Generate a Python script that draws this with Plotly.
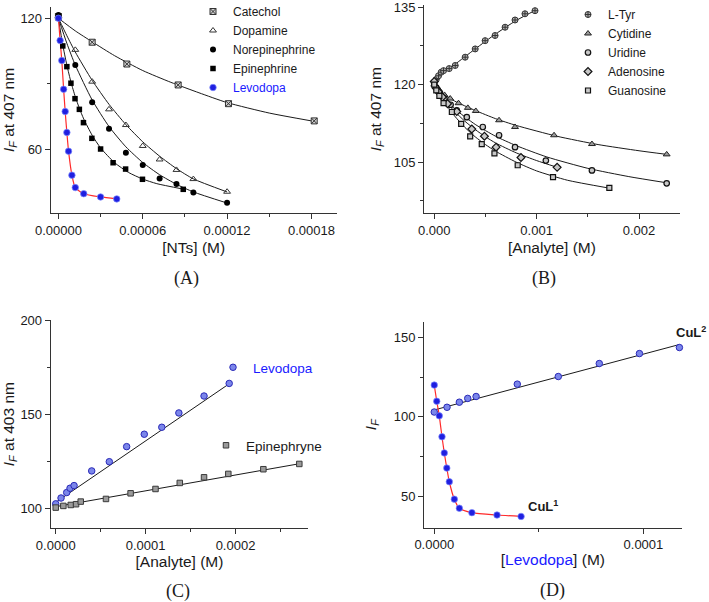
import plotly.graph_objects as go

# ---------------- Panel A data ----------------
a_cat_x = [0, 0.000024, 0.0000487, 0.0000852, 0.000121, 0.000182]
a_cat_y = [120.8, 109.0, 99.0, 89.4, 80.8, 72.9]
a_cat_fit_x = [0, 0.000012, 0.000024, 0.00004, 0.00006, 0.00008, 0.0001, 0.00012, 0.00015, 0.00018]
a_cat_fit_y = [120.0, 114.2, 109.2, 102.8, 96.0, 90.6, 85.8, 81.3, 76.5, 72.9]

a_dop_x = [0, 0.000012, 0.000024, 0.000036, 0.000048, 0.00006, 0.000072, 0.000084, 0.000096, 0.00012]
a_dop_y = [121.0, 105.5, 90.9, 78.2, 71.0, 61.4, 55.2, 50.4, 46.2, 40.4]
a_dop_fit_x = [0, 0.000006, 0.000012, 0.000024, 0.000036, 0.000048, 0.00006, 0.000072, 0.000084, 0.000096, 0.00012]
a_dop_fit_y = [120.0, 112.0, 104.5, 91.5, 80.5, 71.2, 63.3, 56.7, 51.0, 46.3, 40.3]

a_nor_x = [0, 0.000012, 0.000024, 0.000036, 0.000048, 0.00006, 0.000072, 0.000084, 0.000096, 0.00012]
a_nor_y = [121.5, 98.6, 81.4, 69.3, 58.3, 52.7, 46.5, 44.0, 40.0, 35.3]
a_nor_fit_x = [0, 0.000006, 0.000012, 0.000024, 0.000036, 0.000048, 0.00006, 0.000072, 0.000084, 0.000096, 0.00012]
a_nor_fit_y = [120.0, 108.5, 98.5, 82.5, 70.3, 61.0, 53.8, 48.2, 43.8, 40.3, 35.2]

a_epi_x = [0, 0.0000031, 0.000006, 0.0000089, 0.0000118, 0.0000149, 0.0000178, 0.0000238, 0.00003, 0.0000389, 0.0000478, 0.0000598, 0.0000888]
a_epi_y = [120.0, 107.3, 97.8, 90.2, 83.1, 78.2, 72.1, 64.9, 60.0, 53.7, 50.8, 46.1, 41.5]
a_epi_fit_x = [0, 0.000003, 0.000006, 0.000009, 0.000012, 0.000015, 0.000018, 0.000024, 0.00003, 0.00004, 0.00005, 0.00006, 0.00007, 0.0000888]
a_epi_fit_y = [120.0, 108.0, 98.5, 90.5, 84.0, 78.5, 73.8, 66.3, 60.5, 53.7, 49.2, 46.2, 44.1, 41.6]

levo_x = [0, 0.0000012, 0.0000024, 0.0000037, 0.0000048, 0.0000060, 0.0000072, 0.0000096, 0.000012, 0.000018, 0.00003, 0.0000415]
levo_y = [120.0, 109.8, 100.6, 87.4, 77.2, 67.6, 59.0, 48.0, 42.3, 39.5, 38.0, 37.1]

# ---------------- Panel B data ----------------
b_tyr_x = [0, 0.00002, 0.000042, 0.000068, 0.000091, 0.000146, 0.000205, 0.000302, 0.0004, 0.000497, 0.000594, 0.000692, 0.000789, 0.000886, 0.000984]
b_tyr_y = [120.5, 121.0, 121.7, 122.4, 122.7, 123.1, 123.7, 125.3, 126.9, 128.5, 129.5, 131.1, 132.5, 133.7, 134.3]
b_tyr_fit_x = [0, 0.00005, 0.0001, 0.0002, 0.0004, 0.0006, 0.0008, 0.001]
b_tyr_fit_y = [120.3, 121.7, 122.6, 123.9, 126.9, 129.8, 132.4, 134.5]

b_cyt_x = [0, 0.00002, 0.00005, 0.0001, 0.000156, 0.000237, 0.000328, 0.000406, 0.000633, 0.000789, 0.00117, 0.00154, 0.00227]
b_cyt_y = [120.0, 119.5, 118.9, 118.0, 117.3, 116.4, 115.5, 114.9, 113.1, 111.8, 110.2, 108.5, 106.5]
b_cyt_fit_x = [0, 0.0001, 0.0002, 0.0004, 0.0006, 0.0008, 0.0012, 0.0016, 0.002, 0.00227]
b_cyt_fit_y = [120.0, 118.1, 116.8, 115.0, 113.4, 112.1, 110.0, 108.4, 107.2, 106.5]

b_uri_x = [0, 0.00002, 0.00005, 0.0001, 0.00016, 0.00022, 0.000318, 0.000474, 0.000633, 0.000789, 0.00109, 0.00154, 0.00227]
b_uri_y = [120.2, 119.4, 118.5, 117.3, 116.1, 115.0, 113.7, 111.8, 110.2, 107.9, 105.3, 103.4, 100.9]
b_uri_fit_x = [0, 0.0001, 0.0002, 0.0004, 0.0006, 0.0008, 0.0011, 0.0015, 0.0019, 0.00227]
b_uri_fit_y = [120.0, 117.3, 115.3, 112.3, 110.0, 108.2, 106.0, 103.8, 102.2, 101.0]

b_ade_x = [0, 0.00002, 0.00004, 0.00008, 0.00013, 0.00022, 0.000367, 0.00049, 0.000604, 0.000847, 0.0012]
b_ade_y = [120.6, 119.3, 118.6, 117.6, 116.3, 114.8, 111.4, 110.0, 107.9, 105.9, 104.0]
b_ade_fit_x = [0, 0.0001, 0.0002, 0.0003, 0.0004, 0.0005, 0.0006, 0.0008, 0.001, 0.0012]
b_ade_fit_y = [120.0, 117.0, 114.8, 112.9, 111.3, 109.9, 108.7, 106.8, 105.3, 104.0]

b_gua_x = [0, 0.00002, 0.00005, 0.000091, 0.000172, 0.000263, 0.000351, 0.000464, 0.000588, 0.000815, 0.00116, 0.00171]
b_gua_y = [120.0, 118.9, 117.8, 116.4, 114.7, 112.4, 110.0, 108.5, 106.7, 104.4, 102.1, 100.0]
b_gua_fit_x = [0, 0.0001, 0.0002, 0.0003, 0.0004, 0.0005, 0.0006, 0.0008, 0.001, 0.0013, 0.0017]
b_gua_fit_y = [120.0, 116.6, 113.9, 111.7, 109.9, 108.4, 107.1, 105.0, 103.3, 101.5, 100.0]

# ---------------- Panel C data ----------------
c_levo_x = [0, 0.0000059, 0.0000122, 0.0000159, 0.0000204, 0.00004, 0.0000596, 0.0000789, 0.0000985, 0.000118, 0.000137, 0.000165, 0.000193]
c_levo_y = [102.7, 105.8, 108.7, 111.0, 112.4, 120.2, 125.1, 133.1, 139.7, 143.4, 151.0, 160.0, 166.7]
c_levo_fit_x = [0, 0.000193]
c_levo_fit_y = [103.5, 166.5]

c_epi_x = [0, 0.0000085, 0.0000167, 0.0000226, 0.0000278, 0.0000559, 0.0000833, 0.000111, 0.000138, 0.000165, 0.000192, 0.000231, 0.000271]
c_epi_y = [100.7, 101.6, 102.1, 102.5, 103.9, 105.3, 108.3, 110.6, 113.8, 116.8, 118.6, 121.1, 123.9]
c_epi_fit_x = [0, 0.000271]
c_epi_fit_y = [101.2, 124.0]

# ---------------- Panel D data ----------------
d_cul2_x = [0, 0.0000061, 0.000012, 0.000016, 0.00002, 0.0000397, 0.0000593, 0.0000789, 0.0000981, 0.0001172]
d_cul2_y = [103.0, 106.0, 109.2, 111.6, 112.8, 120.6, 125.4, 133.6, 139.9, 143.7]
d_cul2_fit_x = [0, 0.0001172]
d_cul2_fit_y = [104.3, 145.6]

FONT = "Liberation Sans, Arial, sans-serif"
SERIF = "Liberation Serif, Times New Roman, serif"
BLUE = "#1a1aff"
FITC = "#1a1a1a"
RED = "#ff2a2a"

fig = go.Figure()

def fit(x, y, xa, ya, color=FITC, width=1, shape="spline"):
    fig.add_trace(go.Scatter(x=x, y=y, mode="lines", xaxis=xa, yaxis=ya,
                             line=dict(color=color, width=width, shape=shape, smoothing=0.6),
                             showlegend=False, hoverinfo="skip"))

def pts(x, y, xa, ya, name, marker, legend=None, showlegend=True):
    fig.add_trace(go.Scatter(x=x, y=y, mode="markers", xaxis=xa, yaxis=ya, name=name,
                             marker=marker, showlegend=showlegend,
                             legend=legend if legend else "legend", cliponaxis=False))

# ----- A -----
fit(a_cat_fit_x, a_cat_fit_y, "x", "y")
fit(a_dop_fit_x, a_dop_fit_y, "x", "y")
fit(a_nor_fit_x, a_nor_fit_y, "x", "y")
fit(a_epi_fit_x, a_epi_fit_y, "x", "y")
fit(levo_x, levo_y, "x", "y", color=RED, width=1.2)
pts(a_cat_x, a_cat_y, "x", "y", "Catechol",
    dict(symbol="square-x", size=6, color="#d0d0d0", line=dict(color="#333", width=1)), "legend")
pts(a_dop_x, a_dop_y, "x", "y", "Dopamine",
    dict(symbol="triangle-up-open", size=6, color="#333", line=dict(width=1)), "legend")
pts(a_nor_x, a_nor_y, "x", "y", "Norepinephrine",
    dict(symbol="circle", size=6, color="#000"), "legend")
pts(a_epi_x, a_epi_y, "x", "y", "Epinephrine",
    dict(symbol="square", size=5.5, color="#000"), "legend")
pts(levo_x, levo_y, "x", "y", "<span style='color:%s'>Levodopa</span>" % BLUE,
    dict(symbol="circle", size=6.5, color="#1f1fe0", line=dict(color="#7f8cff", width=0.7)), "legend")

# ----- B -----
fit(b_tyr_fit_x, b_tyr_fit_y, "x2", "y2")
fit(b_cyt_fit_x, b_cyt_fit_y, "x2", "y2")
fit(b_uri_fit_x, b_uri_fit_y, "x2", "y2")
fit(b_ade_fit_x, b_ade_fit_y, "x2", "y2")
fit(b_gua_fit_x, b_gua_fit_y, "x2", "y2")
pts(b_tyr_x, b_tyr_y, "x2", "y2", "L-Tyr",
    dict(symbol="circle-cross", size=6, color="#b0b0b0", line=dict(color="#333", width=1)), "legend2")
pts(b_cyt_x, b_cyt_y, "x2", "y2", "Cytidine",
    dict(symbol="triangle-up", size=6, color="#9a9a9a", line=dict(color="#222", width=1)), "legend2")
pts(b_uri_x, b_uri_y, "x2", "y2", "Uridine",
    dict(symbol="circle", size=5.5, color="#c8c8c8", line=dict(color="#111", width=1.2)), "legend2")
pts(b_ade_x, b_ade_y, "x2", "y2", "Adenosine",
    dict(symbol="diamond", size=6, color="#c8c8c8", line=dict(color="#111", width=1.2)), "legend2")
pts(b_gua_x, b_gua_y, "x2", "y2", "Guanosine",
    dict(symbol="square", size=5, color="#c8c8c8", line=dict(color="#111", width=1.2)), "legend2")

# ----- C -----
fit(c_levo_fit_x, c_levo_fit_y, "x3", "y3", shape="linear")
fit(c_epi_fit_x, c_epi_fit_y, "x3", "y3", shape="linear")
pts(c_levo_x, c_levo_y, "x3", "y3", "<span style='color:%s'>Levodopa</span>" % BLUE,
    dict(symbol="circle", size=6.5, color="#7b86ea", line=dict(color="#2a2ab8", width=1)), "legend3")
pts(c_epi_x, c_epi_y, "x3", "y3", "Epinephryne",
    dict(symbol="square", size=5.5, color="#9a9a9a", line=dict(color="#3a3a3a", width=1)), "legend4")

# ----- D -----
fit(d_cul2_fit_x, d_cul2_fit_y, "x4", "y4", shape="linear")
fit(levo_x, levo_y, "x4", "y4", color=RED, width=1.2)
pts(d_cul2_x, d_cul2_y, "x4", "y4", "CuL2",
    dict(symbol="circle", size=6.5, color="#7b86ea", line=dict(color="#2a2ab8", width=1)), showlegend=False)
pts(levo_x, levo_y, "x4", "y4", "CuL1",
    dict(symbol="circle", size=6.5, color="#1f1fe0", line=dict(color="#7f8cff", width=0.7)), showlegend=False)

W, H = 709, 602
def dx(a, b):
    return [a / W, b / W]
def dy(top, bottom):
    return [1 - bottom / H, 1 - top / H]

ax_common = dict(showline=True, linecolor="#333", linewidth=1, ticks="outside", ticklen=5,
                 tickcolor="#333", showgrid=False, zeroline=False, automargin=False,
                 ticklabeloverflow="allow",
                 tickfont=dict(family=FONT, size=13, color="#1a1a1a"),
                 title_font=dict(family=FONT, size=15.5, color="#1a1a1a"))
minor = lambda d: dict(ticks="outside", ticklen=3, dtick=d, tickcolor="#333", showgrid=False)

ytitle = "<i>I<sub>F</sub></i> at 407 nm"

fig.update_layout(
    width=W, height=H, margin=dict(l=0, r=0, t=0, b=0, autoexpand=False),
    paper_bgcolor="white", plot_bgcolor="white",
    font=dict(family=FONT, color="#1a1a1a"),
    xaxis=dict(domain=dx(50.7, 336.7), anchor="y", range=[-0.0000055, 0.000198],
               tick0=0, dtick=0.00006, tickformat=".5f", minor=minor(0.00003),
               title=dict(text="[NTs] (M)", standoff=5), **ax_common),
    yaxis=dict(domain=dy(6.7, 213.3), anchor="x", range=[30.5, 125.3],
               tick0=0, dtick=60, minor=minor(30),
               title=dict(text=ytitle, standoff=4), **ax_common),
    xaxis2=dict(domain=dx(424, 680), anchor="y2", range=[-0.0001, 0.0024],
                tick0=0, dtick=0.001, tickformat=".3f", minor=minor(0.0005),
                title=dict(text="[Analyte] (M)", standoff=5), **ax_common),
    yaxis2=dict(domain=dy(5, 213.3), anchor="x2", range=[95.1, 135.4],
                tick0=0, dtick=15, minor=minor(7.5),
                title=dict(text=ytitle, standoff=8), **ax_common),
    xaxis3=dict(domain=dx(50.7, 308.3), anchor="y3", range=[-0.0000056, 0.000281],
                tick0=0, dtick=0.0001, tickformat=".4f", minor=minor(0.00005),
                title=dict(text="[Analyte] (M)", standoff=4), **ax_common),
    yaxis3=dict(domain=dy(320, 528.3), anchor="x3", range=[89.7, 200.4],
                tick0=0, dtick=50, minor=minor(25),
                title=dict(text="<i>I<sub>F</sub></i> at 403 nm", standoff=7), **ax_common),
    xaxis4=dict(domain=dx(424, 681.7), anchor="y4", range=[-0.0000049, 0.0001183],
                tick0=0, dtick=0.0001, tickformat=".4f", minor=minor(0.00005),
                title=dict(text="[<span style='color:%s'>Levodopa</span>] (M)" % BLUE, standoff=2), **ax_common),
    yaxis4=dict(domain=dy(321.7, 527.7), anchor="x4", range=[30, 160],
                tick0=0, dtick=50, minor=minor(25),
                title=dict(text="<i>I<sub>F</sub></i>", standoff=13), **ax_common),
    legend=dict(x=193 / W, y=1 + 3 / H, xanchor="left", yanchor="top", bgcolor="rgba(0,0,0,0)",
                font=dict(family=FONT, size=12, color="#1a1a1a"), itemsizing="trace", tracegroupgap=0),
    legend2=dict(x=568 / W, y=1.0, xanchor="left", yanchor="top", bgcolor="rgba(0,0,0,0)",
                 font=dict(family=FONT, size=12, color="#1a1a1a"), itemsizing="trace", tracegroupgap=0),
    legend3=dict(x=213 / W, y=1 - 352 / H, xanchor="left", yanchor="top", bgcolor="rgba(0,0,0,0)",
                 font=dict(family=FONT, size=13.5, color="#1a1a1a"), itemsizing="trace"),
    legend4=dict(x=206 / W, y=1 - 430 / H, xanchor="left", yanchor="top", bgcolor="rgba(0,0,0,0)",
                 font=dict(family=FONT, size=13.5, color="#1a1a1a"), itemsizing="trace"),
)

ann = [
    ("(A)", 186, 278), ("(B)", 544, 278), ("(C)", 178, 591), ("(D)", 552, 590),
]
for t, x, y in ann:
    fig.add_annotation(text=t, x=x / W, y=1 - y / H, xref="paper", yref="paper",
                       showarrow=False, font=dict(family=SERIF, size=18, color="#1a1a1a"),
                       xanchor="center", yanchor="middle")

fig.add_annotation(text="<b>CuL<sup>1</sup></b>", x=0.0000521, y=44, xref="x4", yref="y4",
                   showarrow=False, font=dict(family=FONT, size=13, color="#1a1a1a"))
fig.add_annotation(text="<b>CuL<sup>2</sup></b>", x=708 / W, y=1 - 332 / H, xref="paper", yref="paper",
                   xanchor="right", showarrow=False, font=dict(family=FONT, size=13, color="#1a1a1a"))

fig.write_html("out.html")
